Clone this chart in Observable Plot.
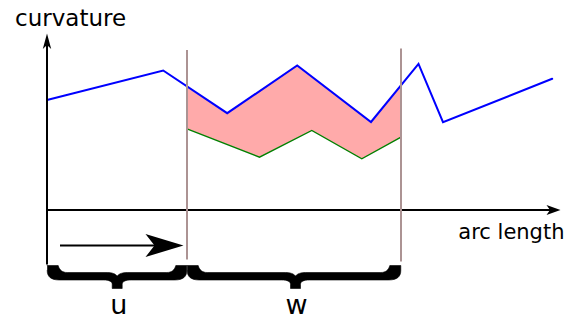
<!DOCTYPE html>
<html><head><meta charset="utf-8">
<script src="https://cdn.jsdelivr.net/npm/d3@7"></script>
<script src="https://cdn.jsdelivr.net/npm/@observablehq/plot@0.6"></script>
<style>html,body{margin:0;padding:0;background:#fff}</style>
</head><body><div id="chart"></div>
<script>
// ---- data (arc length s, curvature k) ----
const curveS = [0, 11.62, 18.02, 25.02, 32.4, 37.15, 39.6, 50.52];
const curveK = [11.0, 13.95, 9.68, 14.45, 8.8, 14.62, 8.78, 13.12];
const lowerS = [14.0, 21.25, 26.48, 31.48, 35.4];
const lowerK = [8.12, 5.28, 7.95, 5.12, 7.28];
const windowS = [14.0, 35.4];          // window edges (u, u+w)
const windowUpperK = [12.28, 12.45];   // upper curve at the edges
const edgeTopK = [15.95, 16.1];
const edgeBottomK = [-5.0, -5.2];
const braceLabels = ["u", "w"];
const braceFrom = [0, 14.0];
const braceTo = [14.0, 35.4];
const braceTip = [7.02, 24.85];
const axisLabels = ["curvature", "arc length"];
const sAxisEnd = 51.35, kAxisTop = 17.65, kAxisBottom = -5.5;
const sweepFrom = 1.35, sweepTo = 13.65, sweepK = -3.55;

// ---- derived tables ----
const curve = curveS.map((s, i) => ({s, k: curveK[i]}));
const lower = lowerS.map((s, i) => ({s, k: lowerK[i]}));
const band = [
  {s: windowS[0], k: windowUpperK[0]},
  ...curve.filter(d => d.s > windowS[0] && d.s < windowS[1]),
  {s: windowS[1], k: windowUpperK[1]},
  ...lower.slice().reverse()
];
const edges = windowS.map((s, i) => ({s, top: edgeTopK[i], bottom: edgeBottomK[i]}));

function head(id, tx, ty, dx, dy, L, H, N) {
  const nx = -dy, ny = dx;
  return [
    {id, s: tx, k: ty},
    {id, s: tx - L*dx + H*nx, k: ty - L*dy + H*ny},
    {id, s: tx - N*dx, k: ty - N*dy},
    {id, s: tx - L*dx - H*nx, k: ty - L*dy - H*ny},
  ];
}
const heads = [
  ...head("y", 0, kAxisTop, 0, 1, 1.55, 0.42, 1.15),
  ...head("x", sAxisEnd, 0, 1, 0, 1.4, 0.5, 1.05),
  ...head("a", sweepTo, sweepK, 1, 0, 3.8, 1.15, 2.9)
];

// brace outline (filled shape)
const T = -5.55, U = -6.25, L = -7.0, B = -7.85, N = -6.6;
function quad(p0, p1, p2, n = 8) {
  const out = [];
  for (let i = 1; i <= n; i++) {
    const t = i / n, a = (1-t)*(1-t), b = 2*t*(1-t), c = t*t;
    out.push([a*p0[0]+b*p1[0]+c*p2[0], a*p0[1]+b*p1[1]+c*p2[1]]);
  }
  return out;
}
function braceOutline(a, b, m) {
  const pts = [[a, T], [a + 1.1, T]];
  pts.push(...quad([a + 1.1, T], [a + 1.3, U], [a + 2.0, U]));
  pts.push([m - 1.0, U]);
  pts.push(...quad([m - 1.0, U], [m - 0.3, U], [m, N]));
  pts.push(...quad([m, N], [m + 0.3, U], [m + 1.0, U]));
  pts.push([b - 2.0, U]);
  pts.push(...quad([b - 2.0, U], [b - 1.3, U], [b - 1.1, T]));
  pts.push([b, T], [b, T - 0.5]);
  pts.push(...quad([b, T - 0.5], [b, L], [b - 1.2, L]));
  pts.push([m + 1.4, L]);
  pts.push(...quad([m + 1.4, L], [m + 0.5, L], [m + 0.5, L - 0.45]));
  pts.push([m + 0.5, B], [m - 0.5, B], [m - 0.5, L - 0.45]);
  pts.push(...quad([m - 0.5, L - 0.45], [m - 0.5, L], [m - 1.4, L]));
  pts.push([a + 1.2, L]);
  pts.push(...quad([a + 1.2, L], [a, L], [a, T - 0.5]));
  return pts;
}
const braces = braceLabels.flatMap((label, i) =>
  braceOutline(braceFrom[i] + 0.02, braceTo[i] - 0.02, braceTip[i]).map(([s, k]) => ({label, s, k})));
const braceText = braceLabels.map((label, i) => ({label, s: braceTip[i] + (i ? 0.1 : 0.15), k: -10.4}));

const font = "DejaVu Sans";
const chart = Plot.plot({
  width: 574, height: 319, margin: 0,
  x: {domain: [-4.65, 52.75], axis: null},
  y: {domain: [-10.95, 20.95], axis: null},
  style: {background: "#fff", fontFamily: font},
  marks: [
    Plot.line(band, {x: "s", y: "k", fill: "#ffaaaa", stroke: "none"}),
    Plot.line(lower, {x: "s", y: "k", stroke: "#008000", strokeWidth: 1.4, strokeLinejoin: "miter", strokeMiterlimit: 4}),
    Plot.line(curve, {x: "s", y: "k", stroke: "#0000ff", strokeWidth: 2, strokeLinejoin: "miter", strokeMiterlimit: 4}),
    Plot.ruleX([0], {y1: kAxisBottom, y2: kAxisTop - 1.2, stroke: "#000", strokeWidth: 2}),
    Plot.ruleY([0], {x1: 0, x2: sAxisEnd - 1.0, stroke: "#000", strokeWidth: 2}),
    Plot.ruleY([sweepK], {x1: sweepFrom, x2: sweepTo - 2.5, stroke: "#000", strokeWidth: 2}),
    Plot.line(heads, {x: "s", y: "k", z: "id", fill: "#000", stroke: "none"}),
    Plot.ruleX(edges, {x: "s", y1: "bottom", y2: "top", stroke: "#ac9393", strokeWidth: 2}),
    Plot.line(braces, {x: "s", y: "k", z: "label", fill: "#000", stroke: "#000", strokeWidth: 0.6, strokeLinejoin: "round"}),
    Plot.text([axisLabels[0]], {x: -3.2, y: 18.45, text: d => d, textAnchor: "start", lineAnchor: "bottom", fontSize: 23, fill: "#000"}),
    Plot.text([axisLabels[1]], {x: 51.75, y: -2.88, text: d => d, textAnchor: "end", lineAnchor: "bottom", fontSize: 21, fill: "#000"}),
    Plot.text(braceText, {x: "s", y: "k", text: "label", textAnchor: "middle", lineAnchor: "bottom", fontSize: 27, fill: "#000"})
  ]
});
document.getElementById("chart").append(chart);
</script>
</body></html>
